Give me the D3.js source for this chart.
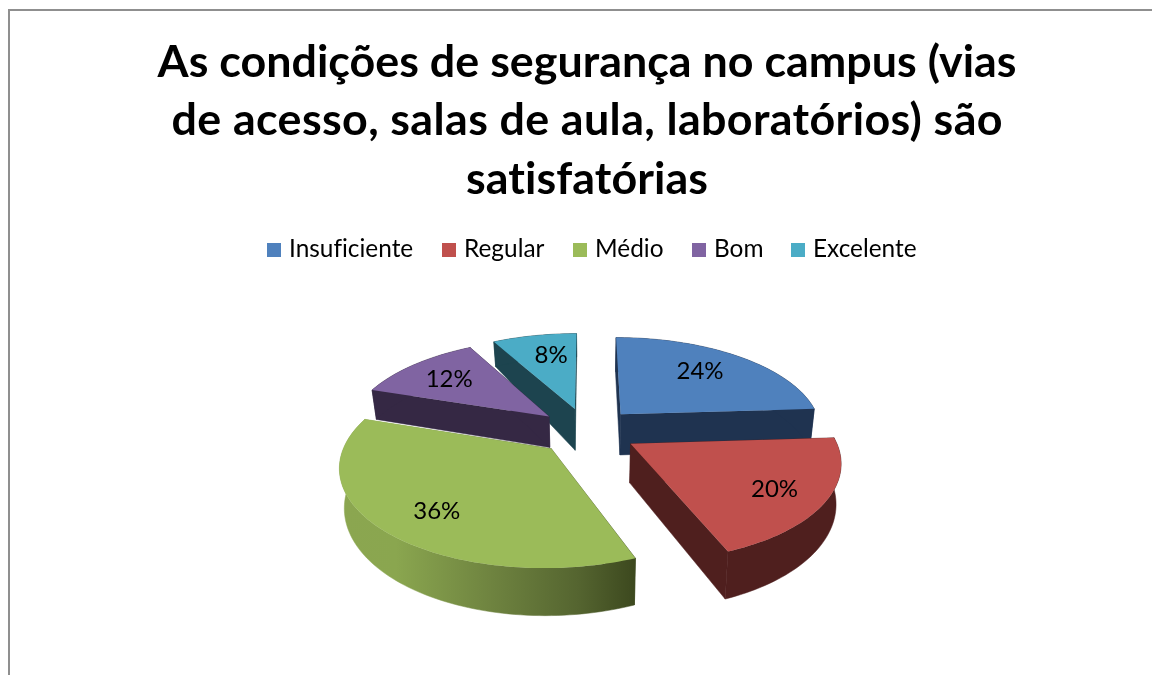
<!DOCTYPE html>
<html><head><meta charset="utf-8">
<script src="https://cdnjs.cloudflare.com/ajax/libs/d3/7.8.5/d3.min.js"></script>
<style>html,body{margin:0;padding:0;background:#fff}svg{display:block;filter:blur(.35px)}text{font-family:Lato,"Open Sans",sans-serif;fill:#000;font-variant-ligatures:none}</style>
</head><body><div id="c"></div>
<script>
const titleLines = ["As condições de segurança no campus (vias","de acesso, salas de aula, laboratórios) são","satisfatórias"];
const categories = ["Insuficiente","Regular","Médio","Bom","Excelente"];
const values = [24,20,36,12,8];
const topColors = ["#4f81bd","#c0504d","#9bbb59","#8064a2","#4bacc6"];
const wallColors = ["#1f3350","#4f1f1e","url(#greenWall)","#352844","#1d444f"];
const labelFractions = [0.68,0.75,0.72,0.7,0.68];
const labelNudgeX = [-3,1,1,-3,5];
const labelNudgeY = [-3,3,5,0,-2];
const sliceDepths = [42,38,37,32,48];
const depthPowers = [1.2,1.2,1.2,1.2,4];
const drawOrder = [4,3,0,2,1];

const W=1152,H=675;
const svg=d3.select("#c").append("svg").attr("width",W).attr("height",H);
const defs=svg.append("defs");
const grad=defs.append("linearGradient").attr("id","greenWall").attr("gradientUnits","userSpaceOnUse")
  .attr("x1",343).attr("x2",636).attr("y1",0).attr("y2",0);
[[0,"#8ba650"],[0.18,"#8aa64f"],[0.5,"#6f8440"],[0.8,"#556530"],[1,"#3c481e"]].forEach(s=>grad.append("stop").attr("offset",s[0]).attr("stop-color",s[1]));

// frame
svg.append("path").attr("d",`M9,${H} L9,10 L${W},10`).attr("fill","none").attr("stroke","#8f8f8f").attr("stroke-width",2);

// title
const titleY=[77,135,194];
const titleWidths=[859,831,242];
svg.selectAll("text.t").data(titleLines).join("text").attr("class","t")
  .attr("x",587).attr("y",(d,i)=>titleY[i]).attr("text-anchor","middle")
  .attr("font-size",44.8).attr("font-weight",700)
  .attr("textLength",(d,i)=>titleWidths[i]).attr("lengthAdjust","spacing").text(d=>d);

// legend
const legendX=[267,442,573,692,791];
const lg=svg.selectAll("g.l").data(categories).join("g").attr("class","l").attr("transform",(d,i)=>`translate(${legendX[i]},0)`);
lg.append("rect").attr("y",243).attr("width",14).attr("height",14).attr("fill",(d,i)=>topColors[i]);
lg.append("text").attr("x",22).attr("y",257).attr("font-size",24.4).text(d=>d);

// projection
const cx=587,cy=431,Rx=202,Ry=94,k=0.16,explode=0.25;
const xs=d3.scaleLinear().domain([0,1]).range([0,Rx]);
const ys=d3.scaleLinear().domain([0,1]).range([0,-Ry]);
function proj(u,v,depth,pow){
  const s=1/(1+k*v);
  const x=xs(u)*s*(depth?0.98:1);
  const y=ys(v)*s+(depth?depth*Math.pow(s,pow):0);
  return [cx+x,cy+y];
}
const pie=d3.pie().sort(null).value(d=>d)(values);
const line=d3.line();
drawOrder.forEach(i=>{
  const a=pie[i], mid=(a.startAngle+a.endAngle)/2;
  const ou=Math.sin(mid)*explode, ov=Math.cos(mid)*explode;
  const n=Math.max(8,Math.round((a.endAngle-a.startAngle)*40));
  const angles=d3.range(n+1).map(j=>a.startAngle+(a.endAngle-a.startAngle)*j/n);
  const world=angles.map(t=>[ou+Math.sin(t),ov+Math.cos(t)]);
  const D=sliceDepths[i],P=depthPowers[i];
  const topArc=world.map(p=>proj(p[0],p[1],0,P));
  const botArc=world.map(p=>proj(p[0],p[1],D,P));
  const apexT=proj(ou,ov,0,P), apexB=proj(ou,ov,D,P);
  const g=svg.append("g");
  const fill=wallColors[i];
  const walls=[
    [apexT,topArc[0],botArc[0],apexB],
    [apexT,topArc[n],botArc[n],apexB],
    topArc.concat(botArc.slice().reverse())
  ];
  walls.forEach(w=>g.append("path").attr("d",line(w)+"Z").attr("fill",fill).attr("stroke",fill).attr("stroke-width",0.5));
  g.append("path").attr("d",line([apexT].concat(topArc))+"Z").attr("fill",topColors[i]);
});
pie.forEach((a,i)=>{
  const mid=(a.startAngle+a.endAngle)/2,f=explode+labelFractions[i];
  const p=proj(Math.sin(mid)*f,Math.cos(mid)*f,0,1);
  svg.append("text").attr("x",p[0]+labelNudgeX[i]).attr("y",p[1]+8+labelNudgeY[i]).attr("text-anchor","middle").attr("font-size",24).text(values[i]+"%");
});
</script></body></html>
